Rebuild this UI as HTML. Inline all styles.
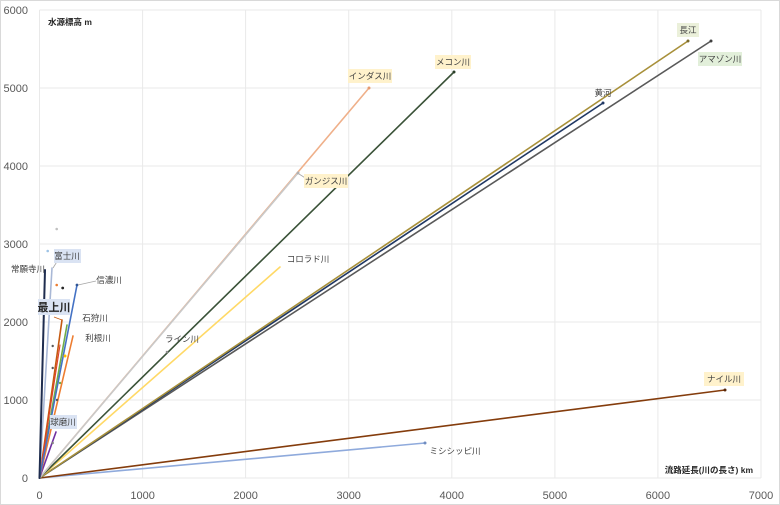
<!DOCTYPE html>
<html><head><meta charset="utf-8"><style>
html,body{margin:0;padding:0;background:#fff;}
svg{display:block;}
text{font-family:"Liberation Sans","Noto Sans CJK JP",sans-serif;}
.t{font-size:11px;fill:#595959;}
.l{font-size:8.5px;fill:#404040;}
</style></head><body>
<svg width="780" height="505" viewBox="0 0 780 505" xmlns="http://www.w3.org/2000/svg">
<rect x="0.5" y="0.5" width="779" height="504" fill="#fff" stroke="#d9d9d9"/>
<g stroke="#e9e9e9" stroke-width="1">
<line x1="39.5" y1="10" x2="39.5" y2="478"/>
<line x1="142.6" y1="10" x2="142.6" y2="478"/>
<line x1="245.6" y1="10" x2="245.6" y2="478"/>
<line x1="348.7" y1="10" x2="348.7" y2="478"/>
<line x1="451.8" y1="10" x2="451.8" y2="478"/>
<line x1="554.9" y1="10" x2="554.9" y2="478"/>
<line x1="657.9" y1="10" x2="657.9" y2="478"/>
<line x1="761" y1="10" x2="761" y2="478"/>
<line x1="39.5" y1="10" x2="761" y2="10"/>
<line x1="39.5" y1="88" x2="761" y2="88"/>
<line x1="39.5" y1="166" x2="761" y2="166"/>
<line x1="39.5" y1="244" x2="761" y2="244"/>
<line x1="39.5" y1="322" x2="761" y2="322"/>
<line x1="39.5" y1="400" x2="761" y2="400"/>
<line x1="39.5" y1="478" x2="761" y2="478"/>
</g>
<g class="t" text-anchor="end">
<text x="28" y="14">6000</text>
<text x="28" y="92">5000</text>
<text x="28" y="170">4000</text>
<text x="28" y="248">3000</text>
<text x="28" y="326">2000</text>
<text x="28" y="404">1000</text>
<text x="28" y="482">0</text>
</g>
<g class="t" text-anchor="middle">
<text x="39.5" y="499">0</text>
<text x="142.6" y="499">1000</text>
<text x="245.6" y="499">2000</text>
<text x="348.7" y="499">3000</text>
<text x="451.8" y="499">4000</text>
<text x="554.9" y="499">5000</text>
<text x="657.9" y="499">6000</text>
<text x="761" y="499">7000</text>
</g>
<text x="48" y="25" style="font-size:8.5px;font-weight:bold;fill:#262626">水源標高 m</text>
<text x="753" y="473" text-anchor="end" style="font-size:8.5px;font-weight:bold;fill:#262626">流路延長(川の長さ) km</text>

<g stroke-width="1.6" fill="none" stroke-linecap="round">
<line x1="39.5" y1="478" x2="425" y2="443" stroke="#8faadc"/>
<line x1="39.5" y1="478" x2="725" y2="390" stroke="#843c0c"/>
<line x1="39.5" y1="478" x2="711" y2="41" stroke="#595959"/>
<line x1="39.5" y1="478" x2="603" y2="103" stroke="#203864"/>
<line x1="39.5" y1="478" x2="688" y2="41" stroke="#a8903a"/>
<line x1="39.5" y1="478" x2="280" y2="267" stroke="#ffd966"/>
<line x1="39.5" y1="478" x2="454" y2="72" stroke="#3a5238"/>
<line x1="39.5" y1="478" x2="369" y2="88" stroke="#efb08a"/>
<line x1="39.5" y1="478" x2="298" y2="173" stroke="#c9c9c9"/>
<line x1="39.5" y1="478" x2="56" y2="432" stroke="#7030a0"/>
<line x1="39.5" y1="478" x2="73" y2="336" stroke="#ed7d31"/>
<line x1="39.5" y1="478" x2="67" y2="325" stroke="#70ad47"/>
<line x1="39.5" y1="478" x2="62" y2="320" stroke="#c55a11"/>
<line x1="39.5" y1="478" x2="60" y2="345" stroke="#e0402a" stroke-width="1.1"/>
<line x1="39.5" y1="478" x2="77" y2="285" stroke="#4472c4"/>
<line x1="39.5" y1="478" x2="52" y2="268" stroke="#a9b8d6"/>
<line x1="39.5" y1="478" x2="45" y2="270" stroke="#1f2d4f" stroke-width="2"/>
</g>
<g>
<circle cx="425" cy="443" r="1.5" fill="#6f8cc0"/>
<circle cx="725" cy="390" r="1.5" fill="#5a2808"/>
<circle cx="711" cy="41" r="1.5" fill="#404040"/>
<circle cx="603" cy="103" r="1.5" fill="#203864"/>
<circle cx="688" cy="41" r="1.5" fill="#7a6a2a"/>
<circle cx="454" cy="72" r="1.5" fill="#2a3e28"/>
<circle cx="369" cy="88" r="1.5" fill="#e69a70"/>
<circle cx="298" cy="173" r="1.5" fill="#b0b0b0"/>
<circle cx="167" cy="352" r="1.3" fill="#8c8c8c"/>
<circle cx="56.7" cy="229" r="1.3" fill="#c0c0c0"/>
<circle cx="47.7" cy="251" r="1.3" fill="#9dc3e6"/>
<circle cx="56.7" cy="285" r="1.3" fill="#ed7d31"/>
<circle cx="62.7" cy="288" r="1.4" fill="#262626"/>
<circle cx="77" cy="285" r="1.4" fill="#2f5597"/>
<circle cx="52.7" cy="346" r="1.2" fill="#595959"/>
<circle cx="52.7" cy="368" r="1.2" fill="#595959"/>
<circle cx="60" cy="383" r="1.2" fill="#70ad47"/>
<circle cx="65" cy="356" r="1.5" fill="#ffc000"/>
<circle cx="52.7" cy="443" r="1.2" fill="#7f7f7f"/>
<circle cx="57" cy="400" r="1.2" fill="#595959"/>
</g>
<g stroke="#a6a6a6" stroke-width="0.8">
<line x1="96" y1="281" x2="78" y2="285"/>
<line x1="54" y1="317" x2="62" y2="320" stroke="#c55a11"/>
<line x1="58" y1="260" x2="53" y2="268"/>
<line x1="318" y1="186" x2="299" y2="174"/>
</g>
<g>
<rect x="677" y="23" width="22" height="14" fill="#ebf0da"/>
<rect x="698" y="52" width="44" height="14" fill="#e2efda"/>
<rect x="435" y="55" width="36" height="14" fill="#fff2cc"/>
<rect x="348" y="69" width="44" height="14" fill="#fff2cc"/>
<rect x="304" y="174" width="44" height="14" fill="#fff2cc"/>
<rect x="704" y="372" width="40" height="14" fill="#fff2cc"/>
<rect x="54" y="249" width="27" height="14" fill="#dae3f3"/>
<rect x="38" y="299" width="32" height="16" fill="#dae3f3"/>
<rect x="50" y="415" width="27" height="14" fill="#dae3f3"/>
</g>
<g class="l" text-anchor="middle">
<text x="688" y="33">長江</text>
<text x="720" y="62">アマゾン川</text>
<text x="603" y="96">黄河</text>
<text x="453" y="65">メコン川</text>
<text x="370" y="79">インダス川</text>
<text x="326" y="184">ガンジス川</text>
<text x="308" y="262">コロラド川</text>
<text x="182" y="342">ライン川</text>
<text x="724" y="382">ナイル川</text>
<text x="455" y="454">ミシシッピ川</text>
<text x="109" y="283">信濃川</text>
<text x="95" y="321">石狩川</text>
<text x="98" y="341">利根川</text>
<text x="67" y="259">富士川</text>
<text x="28" y="272">常願寺川</text>
<text x="63" y="425">球磨川</text>
<text x="54" y="311" style="font-size:11px;font-weight:bold;fill:#262626">最上川</text>
</g>
</svg>
</body></html>
